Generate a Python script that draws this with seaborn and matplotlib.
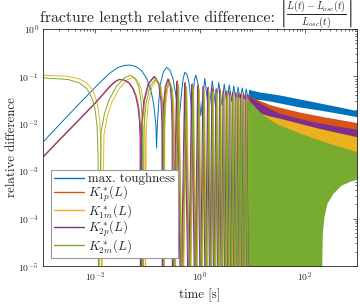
import matplotlib
matplotlib.use("Agg")
import numpy as np
import pandas as pd
import matplotlib.pyplot as plt
from matplotlib.lines import Line2D
from matplotlib.ticker import FixedLocator, FixedFormatter, NullFormatter
import seaborn as sns

sns.set_style("white")
plt.rcParams["mathtext.fontset"] = "cm"
plt.rcParams["axes.unicode_minus"] = False
SERIF = "cmr10"

# ---------------- labels / colours ----------------
labels = ["max. toughness", r"$K^*_{1p}(L)$", r"$K^*_{1m}(L)$",
          r"$K^*_{2p}(L)$", r"$K^*_{2m}(L)$"]
colors = ["#0072BD", "#D95319", "#EDB120", "#7E2F8E", "#77AC30"]
title_text = "fracture length relative difference:"
title_math = r"$\left|\frac{L(t)-L_{osc}(t)}{L_{osc}(t)}\right|$"
xtick_vals = [1e-2, 1e0, 1e2]
xtick_labels = [r"$\mathsf{10^{-2}}$", r"$\mathsf{10^{0}}$", r"$\mathsf{10^{2}}$"]
ytick_vals = [1e-5, 1e-4, 1e-3, 1e-2, 1e-1, 1e0]
ytick_labels = [r"$\mathsf{10^{-5}}$", r"$\mathsf{10^{-4}}$", r"$\mathsf{10^{-3}}$",
                r"$\mathsf{10^{-2}}$", r"$\mathsf{10^{-1}}$", r"$\mathsf{10^{0}}$"]
FLOOR = 1e-6   # value used where a curve touches zero (below the axis)

# ---------------- max. toughness (blue) ----------------
blue_t = [0.001, 0.002111, 0.005083, 0.01224, 0.01899, 0.02699, 0.03514, 0.04574,
          0.05953, 0.0778, 0.09655, 0.1151, 0.1313, 0.1434, 0.1479, 0.1531, 0.1636,
          0.1786, 0.1994, 0.2295, 0.2653, 0.3026, 0.3453, 0.3770, 0.3939, 0.4116,
          0.4494, 0.4801, 0.5128, 0.5721, 0.6246, 0.6674, 0.6975, 0.7288, 0.7787,
          0.8318, 0.9280, 1.0358, 1.2349, 1.4721, 1.7171, 2.0025, 2.2846, 2.6063,
          2.9088, 3.2467, 3.6235, 4.0450, 4.416, 4.8863, 5.3347, 5.8752, 6.4165,
          7.005, 7.6486, 8.3523, 9.0384]
blue_y = [0.00413, 0.00990, 0.02747, 0.07436, 0.1179, 0.1541, 0.1698, 0.1740,
          0.1618, 0.1300, 0.08813, 0.05166, 0.02492, 0.009434, 0.003087, 0.009434,
          0.03178, 0.07618, 0.1238, 0.1541, 0.1365, 0.09253, 0.04051, 0.01774,
          0.007398, 0.01774, 0.05166, 0.09253, 0.1220, 0.1070, 0.06585, 0.03178,
          0.01091, 0.03178, 0.08395, 0.1070, 0.06585, 0.01461, 0.0903, 0.01774,
          0.07998, 0.02154, 0.07436, 0.02492, 0.06914, 0.02747, 0.06585, 0.02954,
          0.06273, 0.03102, 0.05975, 0.03178, 0.05692, 0.03256, 0.05422, 0.03336,
          0.05166]
band_t = [8.537, 13.84, 21.48, 33.33, 80.28, 193.3, 465.5, 1000.0]
blue_band_hi = [0.0529, 0.0469, 0.0436, 0.0405, 0.0334, 0.0275, 0.0226, 0.0189]
blue_band_lo = [0.0334, 0.0326, 0.0303, 0.0275, 0.0226, 0.0195, 0.0165, 0.0141]

# ---------------- K*_1p (orange) ----------------
orange_t = [0.001, 0.002187, 0.005265, 0.01018, 0.01446, 0.01967, 0.02451, 0.02922,
            0.03640, 0.04534, 0.05407, 0.06166, 0.06794, 0.07193, 0.07417, 0.07516,
            0.07882, 0.08740, 0.10578, 0.13640, 0.16702, 0.18540, 0.19397, 0.19765,
            0.20093, 0.20856, 0.22491, 0.25217, 0.27943, 0.29577, 0.30341, 0.30668]
orange_y = [0.00195, 0.00478, 0.01294, 0.02747, 0.04253, 0.06271, 0.07805, 0.08602,
            0.08395, 0.07258, 0.05424, 0.03676, 0.02154, 0.01146, 0.00502, FLOOR,
            0.00936, 0.03075, 0.07036, 0.0995, 0.07036, 0.03075, 0.00936, FLOOR,
            0.00829, 0.02722, 0.0623, 0.0881, 0.0623, 0.02722, 0.00829, FLOOR]
orange_zero_t = [0.4454, 0.6192, 0.8245, 1.050, 1.308, 1.593, 1.900, 2.265, 2.641,
                 3.081, 3.515, 4.010, 4.574, 5.173, 5.824, 6.501, 7.256, 8.099, 8.960]
orange_peak_t = [0.3696, 0.5254, 0.7147, 0.9303, 1.172, 1.443, 1.740, 2.074, 2.446,
                 2.853, 3.290, 3.753, 4.282, 4.864, 5.488, 6.152, 6.870, 7.665, 8.518]
orange_peak_y = [0.0815, 0.0755, 0.0702, 0.0662, 0.0630, 0.0601, 0.0578, 0.0556,
                 0.0538, 0.0517, 0.0502, 0.0488, 0.0473, 0.0460, 0.0449, 0.0436,
                 0.0425, 0.0415, 0.0408]
orange_band_hi = [0.0390, 0.0310, 0.0255, 0.0223, 0.0177, 0.0146, 0.0123, 0.0106]
orange_band_lo = [0.0195, 0.0169, 0.0146, 0.0131, 0.0102, 0.00796, 0.00640, 0.00534]

# ---------------- K*_1m (yellow) ----------------
yellow_t = [0.001, 0.003, 0.005, 0.007, 0.009, 0.011, 0.0122, 0.0128, 0.01307,
            0.01462, 0.01694, 0.02080, 0.02854, 0.04014, 0.05174, 0.06334, 0.07493,
            0.08267, 0.08654, 0.08885, 0.0904,
            0.09396, 0.10228, 0.1201, 0.1498, 0.1795, 0.19732, 0.20564, 0.2092,
            0.21275, 0.22103, 0.23878, 0.26837, 0.29795, 0.3157, 0.32398, 0.32753]
yellow_y = [0.1062, 0.1001, 0.0883, 0.0713, 0.0503, 0.0263, 0.0112, 0.00348, FLOOR,
            0.0059, 0.0147, 0.0290, 0.0553, 0.0838, 0.094, 0.0838, 0.0553, 0.0290,
            0.0147, 0.0059, FLOOR,
            0.00805, 0.02642, 0.06046, 0.0855, 0.06046, 0.02642, 0.00805, FLOOR,
            0.00712, 0.02339, 0.05353, 0.0757, 0.05353, 0.02339, 0.00712, FLOOR]
yellow_zero_t = [0.4753, 0.6580, 0.8678, 1.095, 1.359, 1.648, 1.957, 2.333, 2.709,
                 3.159, 3.588, 4.093, 4.670, 5.270, 5.921, 6.609, 7.376, 8.229, 9.088]
yellow_peak_t = [0.3935, 0.5592, 0.7555, 0.9750, 1.220, 1.497, 1.796, 2.136, 2.514,
                 2.925, 3.366, 3.832, 4.372, 4.962, 5.587, 6.254, 6.981, 7.792, 8.652]
yellow_peak_y = [0.0658, 0.0604, 0.0562, 0.0528, 0.0500, 0.0476, 0.0455, 0.0436,
                 0.0419, 0.0404, 0.0391, 0.0378, 0.0367, 0.0355, 0.0345, 0.0336,
                 0.0327, 0.0318, 0.0310]
yellow_band_hi = [0.0334, 0.0237, 0.0182, 0.0144, 0.0112, 0.00899, 0.00758, 0.00662]
yellow_band_lo = [0.020, 0.012, 0.008, 0.006, 0.004, 0.003, 0.0022, 0.0018]

# ---------------- K*_2p (purple) ----------------
purple_t = [0.001, 0.002111, 0.005083, 0.009826, 0.01396, 0.01899, 0.02366, 0.02821,
            0.03514, 0.04377, 0.05220, 0.05953, 0.06559, 0.06944, 0.07161, 0.07256,
            0.07610, 0.08438, 0.10212, 0.13169, 0.16125, 0.17899, 0.18727, 0.19082,
            0.19398, 0.20135, 0.21714, 0.24345, 0.26977, 0.28555, 0.29292, 0.29608]
purple_y = [0.00202, 0.00478, 0.01294, 0.02747, 0.04253, 0.06271, 0.07805, 0.08602,
            0.08395, 0.07258, 0.05424, 0.03676, 0.02154, 0.01146, 0.00502, FLOOR,
            0.00936, 0.03075, 0.07036, 0.0995, 0.07036, 0.03075, 0.00936, FLOOR,
            0.00829, 0.02722, 0.0623, 0.0881, 0.0623, 0.02722, 0.00829, FLOOR]
purple_zero_t = [0.4300, 0.5978, 0.7960, 1.013, 1.262, 1.538, 1.834, 2.186, 2.550,
                 2.974, 3.393, 3.871, 4.416, 4.994, 5.623, 6.276, 7.005, 7.819, 8.650]
purple_peak_t = [0.3568, 0.5072, 0.6900, 0.8981, 1.131, 1.394, 1.680, 2.003, 2.361,
                 2.754, 3.176, 3.624, 4.134, 4.696, 5.299, 5.940, 6.632, 7.400, 8.224]
purple_peak_y = [0.0784, 0.0726, 0.0675, 0.0637, 0.0606, 0.0578, 0.0556, 0.0535,
                 0.0517, 0.0497, 0.0483, 0.0469, 0.0455, 0.0442, 0.0432, 0.0419,
                 0.0409, 0.0399, 0.0392]
purple_band_hi = [0.0386, 0.0275, 0.0210, 0.0167, 0.0129, 0.0104, 0.00877, 0.00766]
purple_band_lo = [0.0195, 0.0169, 0.0146, 0.0131, 0.0102, 0.00796, 0.00640, 0.00534]

# ---------------- K*_2m (green) ----------------
green_t = [0.001, 0.003, 0.005, 0.007, 0.009, 0.010, 0.0108, 0.0113, 0.01146,
           0.01285, 0.01494, 0.01841, 0.02537, 0.03580, 0.04623, 0.05666, 0.06709,
           0.07405, 0.07752, 0.07961, 0.0810,
           0.08463, 0.0931, 0.11125, 0.1415, 0.17175, 0.1899, 0.19737, 0.2020,
           0.20543, 0.21342, 0.23056, 0.25912, 0.28767, 0.30481, 0.31280, 0.31623]
green_y = [0.0931, 0.0862, 0.0728, 0.0539, 0.0312, 0.0187, 0.0085, 0.00206, FLOOR,
           0.00659, 0.01642, 0.03245, 0.06172, 0.09356, 0.105, 0.09356, 0.06172,
           0.03245, 0.01642, 0.00659, FLOOR,
           0.00829, 0.02722, 0.0623, 0.0881, 0.0623, 0.02722, 0.00829, FLOOR,
           0.00734, 0.02412, 0.05519, 0.07805, 0.05519, 0.02412, 0.00734, FLOOR]
green_zero_t = [0.4615, 0.6388, 0.8425, 1.063, 1.319, 1.600, 1.900, 2.265, 2.630,
                3.067, 3.483, 3.974, 4.534, 5.117, 5.749, 6.416, 7.161, 7.990, 8.823]
green_peak_t = [0.3820, 0.5429, 0.7335, 0.9466, 1.184, 1.453, 1.743, 2.074, 2.440,
                2.840, 3.268, 3.720, 4.245, 4.818, 5.424, 6.072, 6.778, 7.565, 8.400]
green_peak_y = [0.0678, 0.0623, 0.0579, 0.0544, 0.0515, 0.0490, 0.0469, 0.0450,
                0.0432, 0.0417, 0.0403, 0.0390, 0.0378, 0.0366, 0.0356, 0.0346,
                0.0337, 0.0328, 0.0320]
green_band_t = [8.537, 13.84, 21.48, 33.33, 80.28, 193.3, 208.3, 213.9, 217.7,
                233.6, 266.5, 346.8, 501.7, 778.6, 1000.0]
green_band_hi = [0.0318, 0.0177, 0.0123, 0.00943, 0.0064, 0.00455, 0.00442, 0.00438,
                 0.00436, 0.00423, 0.00403, 0.00366, 0.00324, 0.00280, 0.00258]
green_band_lo = [FLOOR, FLOOR, FLOOR, FLOOR, FLOOR, FLOOR, FLOOR, 2.18e-5, 4.90e-5,
                 1.10e-4, 2.10e-4, 3.42e-4, 5.12e-4, 6.30e-4, 6.75e-4]


def curve_frame(t_list, y_list, zero_t=(), peak_t=(), peak_y=()):
    t = list(t_list) + list(zero_t) + list(peak_t)
    y = list(y_list) + [FLOOR] * len(zero_t) + list(peak_y)
    return pd.DataFrame({"t": t, "y": y}).sort_values("t")


series = [
    (curve_frame(blue_t, blue_y), band_t, blue_band_lo, blue_band_hi),
    (curve_frame(orange_t, orange_y, orange_zero_t, orange_peak_t, orange_peak_y),
     band_t, orange_band_lo, orange_band_hi),
    (curve_frame(yellow_t, yellow_y, yellow_zero_t, yellow_peak_t, yellow_peak_y),
     band_t, yellow_band_lo, yellow_band_hi),
    (curve_frame(purple_t, purple_y, purple_zero_t, purple_peak_t, purple_peak_y),
     band_t, purple_band_lo, purple_band_hi),
    (curve_frame(green_t, green_y, green_zero_t, green_peak_t, green_peak_y),
     green_band_t, green_band_lo, green_band_hi),
]

fig = plt.figure(figsize=(3.6, 3.04), dpi=100)
ax = fig.add_axes([43 / 360, 38 / 304, 314 / 360, 237 / 304])
ax.set_xscale("log")
ax.set_yscale("log")

for i, ((df, bt, blo, bhi), c) in enumerate(zip(series, colors)):
    z = 2 + 0.1 * i
    sns.lineplot(data=df, x="t", y="y", color=c, lw=0.7, estimator=None,
                 sort=False, ax=ax, zorder=z, legend=False)
    ax.fill_between(bt, blo, bhi, color=c, lw=0, zorder=z)

ax.set_xlim(1e-3, 1e3)
ax.set_ylim(1e-5, 1e0)

# ticks
ax.xaxis.set_major_locator(FixedLocator(xtick_vals))
ax.xaxis.set_major_formatter(FixedFormatter(xtick_labels))
xminor = [k * 10.0 ** e for e in range(-3, 3) for k in range(1, 10)
          if k * 10.0 ** e not in xtick_vals] + [1e3]
ax.xaxis.set_minor_locator(FixedLocator(xminor))
ax.xaxis.set_minor_formatter(NullFormatter())
ax.yaxis.set_major_locator(FixedLocator(ytick_vals))
ax.yaxis.set_major_formatter(FixedFormatter(ytick_labels))
yminor = [k * 10.0 ** e for e in range(-5, 0) for k in range(2, 10)]
ax.yaxis.set_minor_locator(FixedLocator(yminor))
ax.yaxis.set_minor_formatter(NullFormatter())
ax.tick_params(which="both", direction="in", top=True, right=True,
               color="0.15", width=0.5, labelsize=7, pad=3)
ax.tick_params(which="major", length=3)
ax.tick_params(which="minor", length=1.6)
for sp in ax.spines.values():
    sp.set_color("0.15")
    sp.set_linewidth(0.6)

ax.set_xlabel("time [s]", fontfamily=SERIF, fontsize=9.3)
ax.set_ylabel("relative difference", fontfamily=SERIF, fontsize=9.3)
ax.xaxis.set_label_coords(0.5, -0.095)
ax.yaxis.set_label_coords(-0.08, 0.5)

# title: plain part + fraction with absolute-value bars
fig.text(40 / 360, 1 - 22 / 304, title_text, fontfamily=SERIF, fontsize=11.4,
         ha="left", va="baseline")
fig.text(316 / 360, 1 - 15 / 304, title_math, fontsize=10.3,
         ha="center", va="center")

handles = [Line2D([], [], color=c, lw=1.0) for c in colors]
leg = ax.legend(handles, labels, loc="lower left", bbox_to_anchor=(0.0245, 0.0325),
                borderaxespad=0, frameon=True, fancybox=False, framealpha=1,
                edgecolor="0.6", prop={"family": SERIF, "size": 9.3},
                handlelength=2.35, handletextpad=0.3, labelspacing=-0.12,
                borderpad=0.25)
leg.get_frame().set_linewidth(0.8)
leg.set_zorder(10)

fig.savefig("out.png", dpi=100)
